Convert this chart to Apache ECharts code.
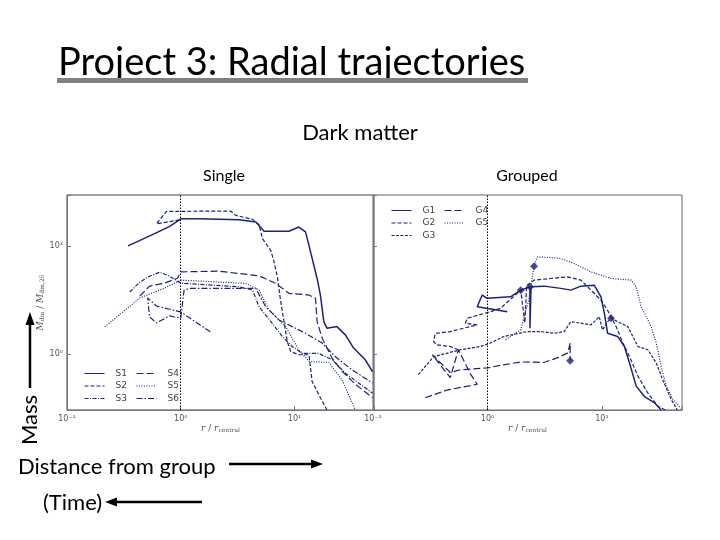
<!DOCTYPE html>
<html><head><meta charset="utf-8">
<script src="https://cdn.jsdelivr.net/npm/echarts@6/dist/echarts.min.js"></script>
<style>html,body{margin:0;padding:0;background:#fff}#c{width:720px;height:540px}</style>
</head><body><div id="c"></div>
<script>
// ---- data (x = r / r_central, y = M_dm / M_dm,25) ----
const xTickLabels = {'-1': '10\u207B\u00B9', '0': '10\u2070', '1': '10\u00B9'};
const yTickLabels = {'0': '10\u2070', '1': '10\u00B9'};

const singleNames = ['S1', 'S2', 'S3', 'S4', 'S5', 'S6'];
const groupNames = ['G1', 'G2', 'G3', 'G4', 'G5'];

const s1 = [[0.344,10.1],[0.589,13.1],[0.80,15.3],[1.0,18.0],[1.46,18.0],[3.26,17.7],[4.57,16.8],[5.40,13.8],[8.93,13.8],[10.9,15.1],[12.5,13.6],[13.4,10.2],[15.8,5.02],[16.9,3.52],[18.1,1.99],[19.3,1.73],[23.6,1.79],[28.0,1.50],[33.1,1.13],[41.9,0.88],[48.6,0.68]];
const s2 = [[0.975,17.6],[0.612,16.2],[0.75,21.1],[1.46,21.2],[2.76,21.2],[3.05,19.4],[4.27,17.8],[4.88,15.9],[5.22,11.8],[6.18,9.18],[6.61,7.16],[7.07,5.2],[7.57,3.05],[8.09,1.99],[8.64,1.30],[9.25,1.05],[10.9,0.98],[13.4,0.98],[14.3,0.55],[16.9,0.39],[19.3,0.30]];
const s3 = [[0.356,3.75],[0.436,4.64],[0.532,5.27],[0.652,5.74],[0.796,5.27],[1.0,4.54],[3.26,4.2],[4.27,3.91],[4.88,2.74],[6.38,1.92],[7.8,1.45],[9.55,1.17],[11.7,1.01],[16.3,1.01],[21.4,0.88],[28.0,0.66],[36.6,0.535],[48.6,0.43]];
const s4 = [[0.436,3.44],[0.532,4.26],[0.72,4.54],[0.935,5.05],[1.0,5.78],[2.18,5.87],[4.88,5.31],[6.84,4.52],[8.93,3.65],[13.4,3.52],[15.3,3.28],[15.8,1.99],[17.5,1.40],[19.3,1.13],[21.4,0.91],[26.2,0.69],[34.3,0.52],[48.6,0.39]];
const s5 = [[0.215,1.78],[0.436,3.30],[0.72,4.08],[1.0,4.84],[3.73,4.52],[4.88,3.91],[5.97,2.56],[8.36,1.79],[10.9,1.09],[13.4,0.85],[20,0.83],[26.2,0.57],[34.3,0.30]];
const s6 = [[1.82,1.60],[1.0,2.45],[0.612,2.78],[0.512,3.30],[0.532,2.20],[0.612,1.94],[0.796,2.25],[1.0,2.15],[1.07,3.91],[1.19,4.06],[4.57,4.06],[5.58,2.74],[7.3,2.06],[9.55,1.79],[12.5,1.55],[17.5,1.26],[22.9,0.94],[32,0.71],[48.6,0.535]];

const g1 = [[1.49,2.46],[0.813,2.74],[0.899,3.52],[0.994,3.28],[1.59,3.39],[1.95,3.91],[2.35,4.2],[2.35,1.73],[2.40,4.2],[3.12,4.26],[4.37,4.06],[5.35,3.91],[6.55,4.26],[8.55,4.35],[9.8,3.39],[10.5,2.38],[11.2,1.55],[13.7,1.45],[15.7,1.17],[17.4,0.82],[19.9,0.50],[23.5,0.40],[28.8,0.35],[32.9,0.30]];
const g2 = [[0.557,1.09],[0.473,1.17],[0.362,1.21],[0.338,1.30],[0.350,1.55],[0.473,1.61],[0.813,1.86],[0.641,1.92],[0.664,2.14],[0.840,2.30],[1.06,2.46],[1.30,2.65],[1.95,3.91],[2.12,1.94],[2.2,4.3],[2.55,4.84],[5.0,5.2],[6.55,4.84],[8.01,3.91],[9.8,3.16],[11.6,2.38],[13.3,1.79],[15.2,1.26],[17.4,0.94],[20.6,0.62],[25.2,0.43],[30.8,0.325],[35.7,0.30]];
const g3 = [[0.249,0.64],[0.338,0.94],[0.579,1.09],[0.868,1.17],[1.06,1.26],[1.39,1.45],[2.23,1.61],[2.92,1.61],[3.82,1.55],[4.67,1.61],[5.35,1.99],[8.01,1.86],[9.46,2.21],[10.1,1.67],[11.2,1.99],[12.0,2.14],[13.7,1.99],[16.8,1.79],[20.6,1.17],[25.2,1.09],[29.8,0.82],[34.0,0.57],[40.3,0.375],[45.5,0.30]];
const g4 = [[0.286,0.39],[0.443,0.46],[0.813,0.52],[0.709,0.65],[0.557,1.09],[0.473,0.60],[0.330,0.98],[0.473,0.67],[0.579,0.71],[1.0,0.74],[1.38,0.79],[1.95,0.84],[3.10,0.83],[4.11,0.92],[5.03,1.02],[5.27,1.26],[5.27,0.86]];
const g5 = [[1.44,1.35],[1.95,1.67],[2.29,3.16],[2.55,6.53],[2.73,7.96],[3.57,7.86],[4.37,7.69],[5.71,6.92],[8.01,5.78],[12.0,5.02],[18.0,4.84],[19.9,4.2],[22.0,2.74],[26.9,1.79],[29.8,1.26],[32.9,0.76],[36.4,0.50],[41.7,0.375],[49,0.31]];
const groupMarkers = [[2.55,6.53],[1.95,3.91],[2.35,4.2],[12.0,2.14],[5.27,0.86]];

// ---- styling ----
const NAVY = '#1f2080';
const dashes = {
  S1: 'solid', S2: [4, 2], S3: [4, 1.5, 1, 1.5], S4: [7, 3], S5: [1, 1.5], S6: [6, 2, 1.5, 2],
  G1: 'solid', G2: [4, 2], G3: [3, 1.5], G4: [7, 3], G5: [1, 1.5]
};
const singleData = [s1, s2, s3, s4, s5, s6];
const groupData = [g1, g2, g3, g4, g5];

function isPow10(v) { const l = Math.log10(v); return Math.abs(l - Math.round(l)) < 1e-6; }
function xFmt(v) { return isPow10(v) ? (xTickLabels[String(Math.round(Math.log10(v)))] || '') : ''; }
function yFmt(v) { return isPow10(v) ? (yTickLabels[String(Math.round(Math.log10(v)))] || '') : ''; }

const vline = {
  silent: true, symbol: 'none', label: {show: false},
  lineStyle: {type: [1.5, 1.5], color: '#000', width: 1},
  data: [{xAxis: 1}]
};

function lineSeries(name, data, grid, extra) {
  return Object.assign({
    name: name, type: 'line', data: data, xAxisIndex: grid, yAxisIndex: grid,
    symbol: 'none', smooth: false, clip: true, animation: false,
    lineStyle: {color: NAVY, width: name === 'S1' || name === 'G1' ? 1.5 : 1.2, type: dashes[name]},
    itemStyle: {color: NAVY}
  }, extra || {});
}

const series = [];
singleNames.forEach((n, i) => series.push(lineSeries(n, singleData[i], 0, i === 0 ? {markLine: vline} : null)));
groupNames.forEach((n, i) => series.push(lineSeries(n, groupData[i], 1, i === 0 ? {markLine: vline} : null)));
series.push({
  name: 'markers', type: 'scatter', data: groupMarkers, xAxisIndex: 1, yAxisIndex: 1,
  symbol: 'diamond', symbolSize: 8, itemStyle: {color: NAVY}, animation: false, z: 5
});

const axisText = {fontSize: 8, color: '#555', fontFamily: 'DejaVu Sans'};
function xAxis(grid) {
  return {
    gridIndex: grid, type: 'log', logBase: 10, min: 0.1, max: 50,
    axisLine: {show: true, lineStyle: {color: '#777', width: 1}},
    axisTick: {show: true, inside: true, length: 4, lineStyle: {color: '#777'}},
    axisLabel: Object.assign({formatter: xFmt, margin: 5, showMinLabel: true, showMaxLabel: true}, axisText),
    splitLine: {show: false},
    name: '{i|r} / {i|r}{s|central}', nameLocation: 'middle', nameGap: 13,
    nameTextStyle: {color: '#555', fontSize: 9, fontFamily: 'DejaVu Serif',
      rich: {i: {fontStyle: 'italic', fontSize: 9, color: '#555', fontFamily: 'DejaVu Serif'},
             s: {fontSize: 6, color: '#555', verticalAlign: 'bottom', padding: [4, 0, 0, 0]}}}
  };
}

const option = {
  backgroundColor: '#fff',
  animation: false,
  grid: [
    {left: 67, top: 195, width: 307, height: 215, show: true, borderColor: '#444', borderWidth: 1, backgroundColor: 'transparent'},
    {left: 373, top: 195, width: 309, height: 215, show: true, borderColor: '#666', borderWidth: 1, backgroundColor: 'transparent'}
  ],
  xAxis: [xAxis(0), xAxis(1)],
  yAxis: [
    {
      gridIndex: 0, type: 'log', logBase: 10, min: 0.3, max: 30,
      axisLine: {show: true, lineStyle: {color: '#777'}},
      axisTick: {show: true, inside: true, length: 4, lineStyle: {color: '#777'}},
      axisLabel: Object.assign({formatter: yFmt, margin: 4}, axisText),
      splitLine: {show: false},
      name: '{i|M}{s|dm} / {i|M}{s|dm,25}', nameLocation: 'middle', nameGap: 17, nameRotate: 90,
      nameTextStyle: {color: '#555', fontSize: 9, fontFamily: 'DejaVu Serif',
        rich: {i: {fontStyle: 'italic', fontSize: 9, color: '#555', fontFamily: 'DejaVu Serif'},
               s: {fontSize: 6, color: '#555', padding: [4, 0, 0, 0]}}}
    },
    {
      gridIndex: 1, type: 'log', logBase: 10, min: 0.3, max: 30,
      axisLine: {show: true, lineStyle: {color: '#777'}},
      axisTick: {show: true, inside: true, length: 4, lineStyle: {color: '#777'}},
      axisLabel: {show: false}, splitLine: {show: false}
    }
  ],
  legend: [
    {data: ['S1', 'S2', 'S3'], left: 79, top: 364},
    {data: ['S4', 'S5', 'S6'], left: 131, top: 364},
    {data: ['G1', 'G2', 'G3'], left: 386, top: 201},
    {data: ['G4', 'G5'], left: 439, top: 201}
  ].map(l => Object.assign({
    orient: 'vertical', itemWidth: 20, itemHeight: 10, itemGap: 3.5, selectedMode: false,
    itemStyle: {opacity: 0},
    lineStyle: {width: 1},
    textStyle: {fontSize: 9, color: '#444', fontFamily: 'DejaVu Sans', padding: [0, 0, 0, 6]}
  }, l)),
  series: series,
  graphic: [
    {type: 'text', x: 58, y: 63, style: {text: 'Project 3: Radial trajectories', font: '38px Lato', fill: '#000', align: 'left', verticalAlign: 'middle', textAlign: 'left', textVerticalAlign: 'middle'}},
    {type: 'rect', shape: {x: 57, y: 78, width: 471, height: 5}, style: {fill: '#808080'}, z: 10},
    {type: 'text', x: 360, y: 133, style: {text: 'Dark matter', font: '22px Lato', fill: '#000', align: 'center', verticalAlign: 'middle', textAlign: 'center', textVerticalAlign: 'middle'}},
    {type: 'text', x: 224, y: 176, style: {text: 'Single', font: '16px Lato', fill: '#000', align: 'center', verticalAlign: 'middle', textAlign: 'center', textVerticalAlign: 'middle'}},
    {type: 'text', x: 527, y: 176, style: {text: 'Grouped', font: '16px Lato', fill: '#000', align: 'center', verticalAlign: 'middle', textAlign: 'center', textVerticalAlign: 'middle'}},
    {type: 'text', x: 30, y: 420, rotation: Math.PI / 2, style: {text: 'Mass', font: '22px Lato', fill: '#000', align: 'center', verticalAlign: 'middle', textAlign: 'center', textVerticalAlign: 'middle'}},
    {type: 'line', shape: {x1: 30, y1: 388, x2: 30, y2: 322}, style: {stroke: '#000', lineWidth: 2.5}},
    {type: 'polygon', shape: {points: [[30, 312], [25.5, 325], [34.5, 325]]}, style: {fill: '#000'}},
    {type: 'text', x: 18, y: 467, style: {text: 'Distance from group', font: '22px Lato', fill: '#000', align: 'left', verticalAlign: 'middle', textAlign: 'left', textVerticalAlign: 'middle'}},
    {type: 'line', shape: {x1: 229, y1: 464, x2: 314, y2: 464}, style: {stroke: '#000', lineWidth: 2.5}},
    {type: 'polygon', shape: {points: [[323, 464], [311, 459.5], [311, 468.5]]}, style: {fill: '#000'}},
    {type: 'text', x: 43, y: 503, style: {text: '(Time)', font: '22px Lato', fill: '#000', align: 'left', verticalAlign: 'middle', textAlign: 'left', textVerticalAlign: 'middle'}},
    {type: 'line', shape: {x1: 202, y1: 502, x2: 114, y2: 502}, style: {stroke: '#000', lineWidth: 2.5}},
    {type: 'polygon', shape: {points: [[105, 502], [117, 497.5], [117, 506.5]]}, style: {fill: '#000'}}
  ]
};

const chart = echarts.init(document.getElementById('c'), null, {renderer: 'canvas'});
chart.setOption(option);
</script></body></html>
